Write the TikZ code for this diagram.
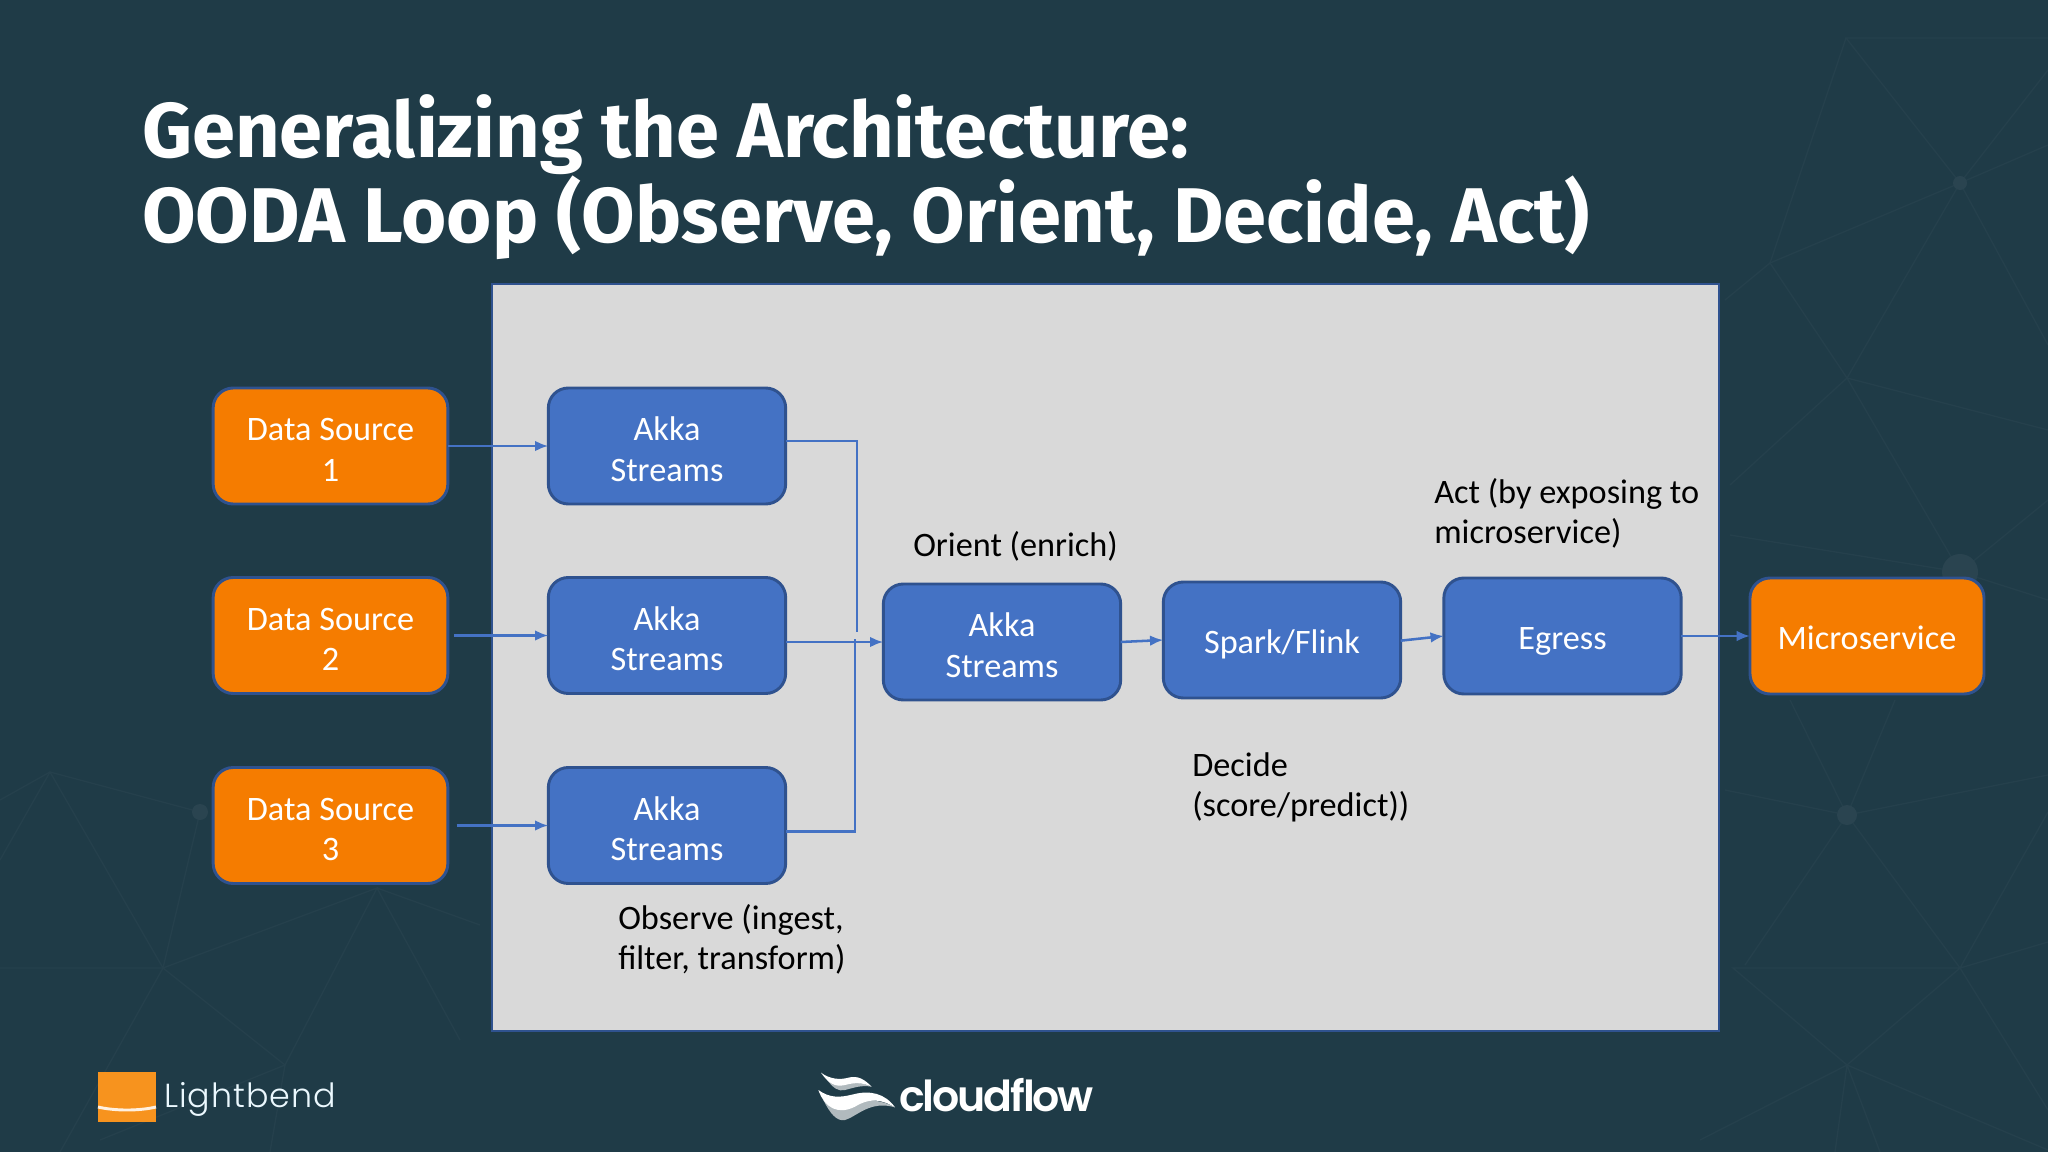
\documentclass[tikz,border=0pt]{standalone}
\usepackage{fontspec}
\usetikzlibrary{arrows.meta,calc}
\setmainfont{Carlito}
\newfontfamily\titlefont{Fira Sans}
\newfontfamily\lbfont[UprightFont=* Light,LetterSpace=3]{Poppins}
\newfontfamily\cffont[UprightFont=* SemiBold,LetterSpace=-5]{Poppins}
\definecolor{bgc}{HTML}{1F3B47}
\definecolor{netc}{HTML}{25404C}
\definecolor{dotc}{HTML}{2A4450}
\definecolor{edgec}{HTML}{2F528F}
\definecolor{bluec}{HTML}{4472C4}
\definecolor{orangec}{HTML}{F57C00}
\definecolor{panelc}{HTML}{D9D9D9}
\definecolor{logoc}{HTML}{F7931E}
\tikzset{
  basebox/.style={draw=edgec,line width=2.2pt,rounded corners=15pt,inner sep=0pt,outer sep=0pt,text=white,align=center,minimum height=87pt,font=\fontsize{25.7}{30.4}\selectfont},
  twolines/.style={text height=52.9pt},
  oneline/.style={text height=20pt,text depth=0pt},
  bluebox/.style={basebox,fill=bluec,minimum width=178pt},
  orangebox/.style={basebox,fill=orangec,minimum width=176pt},
  conn/.style={draw=bluec,line width=1.9pt,-{Latex[length=10pt,width=8pt]}},
  plainconn/.style={draw=bluec,line width=1.9pt},
  note/.style={anchor=west,align=left,inner sep=0pt,text=black,font=\fontsize{25.7}{30.4}\selectfont},
  net/.style={draw=netc,line width=1pt},
  titletext/.style={anchor=base west,inner sep=0pt,text=white,font=\titlefont\bfseries\fontsize{58.2}{60}\selectfont},
}
\begin{document}
\begin{tikzpicture}[x=0.75pt,y=-0.75pt]
\useasboundingbox (0,0) rectangle (2048,1152);
\fill[bgc] (0,0) rectangle (2048,1152);
% faint network background
\draw[net] (2048,38)--(1846,38)--(1960,183)--(1770,263)--(1725,300);
\draw[net] (1846,38)--(1770,263)--(1847,378)--(1960,183);
\draw[net] (1847,378)--(1730,485);
\draw[net] (1847,378)--(2048,430);
\draw[net] (1960,183)--(2048,70) (1960,183)--(2048,145);
\draw[net] (1960,183)--(2048,345);
\draw[net] (1847,378)--(1960,572)--(1730,535);
\draw[net] (1960,572)--(2048,500) (1960,572)--(2048,600);
\draw[net] (1725,790)--(1847,815)--(2048,775);
\draw[net] (1790,700)--(1847,815)--(1895,700);
\draw[net] (1745,965)--(1847,815)--(1960,968)--(1733,968)--(1847,1065)--(1960,968);
\draw[net] (1960,968)--(2048,942) (1960,968)--(2048,812) (1960,968)--(2048,1110);
\draw[net] (1847,1065)--(1700,1140) (1847,1065)--(1835,1152) (1847,1065)--(1880,1152) (1847,1065)--(2048,1150);
\draw[net] (0,800)--(50,772)--(200,812)--(163,968)--(0,968);
\draw[net] (0,860)--(50,772)--(163,968)--(377,888)--(285,1065)--(163,968);
\draw[net] (377,888)--(480,925) (377,888)--(460,1040) (163,968)--(60,1152) (285,1065)--(270,1152) (285,1065)--(100,1140);
\fill[dotc] (1960,183) circle (7);
\fill[dotc] (1960,572) circle (18);
\fill[dotc] (1847,815) circle (10);
\fill[dotc] (200,812) circle (8);
% title
\node[titletext] (t1) at (142,157) {Generalizing the Architecture:};
\node[titletext] (t2) at (142,242) {OODA Loop (Observe, Orient, Decide, Act)};
% panel
\node[draw=edgec,fill=panelc,line width=2.2pt,inner sep=0pt,minimum width=920.25pt,minimum height=560.25pt] (panel) at (1105.5,657.5) {};
% nodes
\node[orangebox,twolines] (ds1) at (330.5,446) {Data Source\\1};
\node[orangebox,twolines] (ds2) at (330.5,635.5) {Data Source\\2};
\node[orangebox,twolines] (ds3) at (330.5,825.5) {Data Source\\3};
\node[bluebox,twolines] (ak1) at (667,446) {Akka\\Streams};
\node[bluebox,twolines] (ak2) at (667,635.5) {Akka\\Streams};
\node[bluebox,twolines] (ak3) at (667,825.5) {Akka\\Streams};
\node[bluebox,twolines] (akc) at (1002,642) {Akka\\Streams};
\node[bluebox,oneline] (spark) at (1282,640) {Spark/Flink};
\node[bluebox,oneline] (egress) at (1562.5,636) {Egress};
\node[orangebox,oneline,minimum width=175.5pt] (micro) at (1867,636) {Microservice};
% connectors
\coordinate (jt) at (857,632);
\coordinate (jb) at (855,639);
\draw[conn] (ds1.east) -- (ak1.west);
\draw[conn,shorten <=4.5pt] (ds2.east) -- (ak2.west);
\draw[conn,shorten <=6.5pt] (ds3.east) -- (ak3.west);
\draw[plainconn] ([yshift=3.75pt]ak1.east) -| (jt);
\draw[plainconn] ([yshift=-4.5pt]ak3.east) -| (jb);
\draw[conn] (ak2.east |- akc.west) -- (akc.west);
\draw[conn] (akc.east) -- (spark.west);
\draw[conn] ([yshift=-0.5pt]spark.east) -- (egress.west);
\draw[conn] (egress.east) -- (micro.west);
% labels
\node[note] (n1) at (913,546.5) {Orient (enrich)};
\node[note] (n2) at (1434,513.5) {Act (by exposing to\\microservice)};
\node[note] (n3) at (1192,787.5) {Decide\\(score/predict))};
\node[note] (n4) at (618,939.5) {Observe (ingest,\\filter, transform)};
% Lightbend logo
\fill[logoc] (98,1072) rectangle (156,1122);
\draw[draw=white!88!orange,line width=2.2pt] (98,1107) .. controls (115,1111) and (139,1111) .. (156,1107);
\node[anchor=base west,inner sep=0pt,text=white!92!cyan,font=\lbfont\fontsize{25}{25}\selectfont] (lb) at (164,1107) {Lightbend};
% cloudflow logo
\begin{scope}[shift={(790,1050)},x=0.25pt,y=-0.25pt]
\fill[white!65!bgc] (110,88) .. controls (130,115) and (145,125) .. (165,120) .. controls (195,112) and (215,105) .. (245,110) .. controls (215,95) and (170,95) .. (110,88) -- cycle;
\fill[white] (93,68) .. controls (120,88) and (150,90) .. (175,83) .. controls (205,75) and (225,90) .. (245,110) .. controls (215,97) and (195,97) .. (165,105) .. controls (135,112) and (115,100) .. (93,68) -- cycle;
\fill[white!65!bgc] (100,150) .. controls (120,190) and (140,215) .. (165,210) .. controls (200,200) and (240,150) .. (315,172) .. controls (260,140) and (190,150) .. (100,150) -- cycle;
\fill[white] (85,120) .. controls (120,145) and (150,143) .. (190,133) .. controls (240,120) and (285,130) .. (315,172) .. controls (270,145) and (235,145) .. (195,170) .. controls (145,195) and (105,175) .. (85,120) -- cycle;
\end{scope}
\node[anchor=base west,inner sep=0pt,text=white,font=\cffont\fontsize{32}{32}\selectfont] (cf) at (899,1111) {cloudflow};
\end{tikzpicture}
\end{document}
